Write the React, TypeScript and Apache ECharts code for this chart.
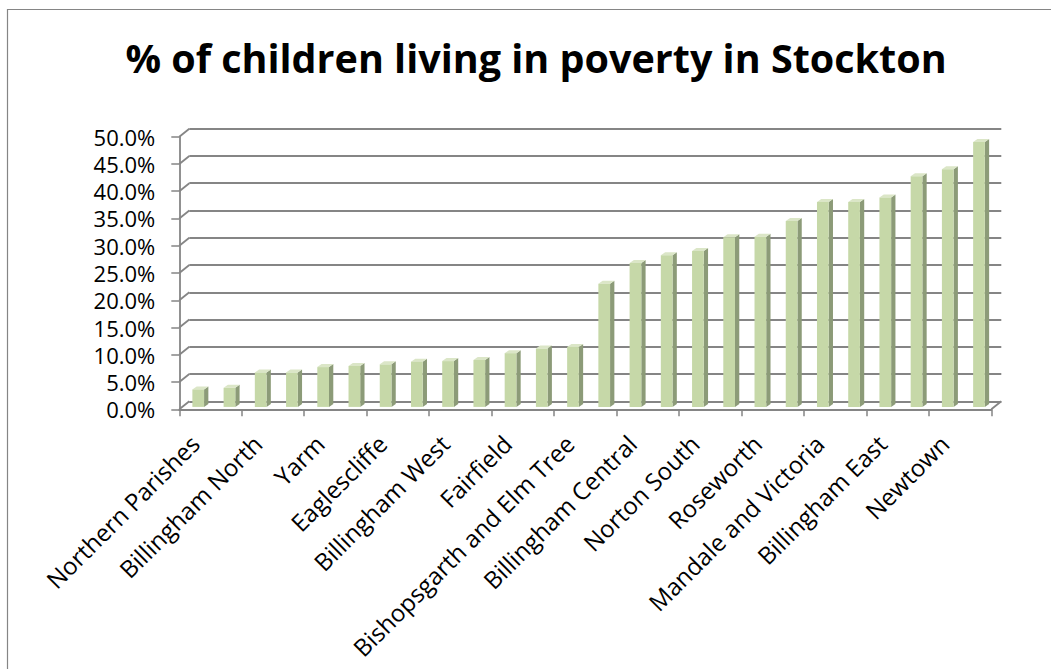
import React, { useEffect, useRef } from "react";
import * as echarts from "echarts";

const categories = [
  "Northern Parishes",
  "Ingleby Barwick West",
  "Billingham North",
  "Ingleby Barwick East",
  "Yarm",
  "Western Parishes",
  "Eaglescliffe",
  "Hartburn",
  "Billingham West",
  "Norton West",
  "Fairfield",
  "Grangefield",
  "Bishopsgarth and Elm Tree",
  "Village",
  "Billingham Central",
  "Billingham South",
  "Norton South",
  "Norton North",
  "Roseworth",
  "Parkfield and Oxbridge",
  "Mandale and Victoria",
  "Hardwick",
  "Billingham East",
  "Stainsby Hill",
  "Newtown",
  "Stockton Town Centre",
];

const values = [
  3.2, 3.5, 6.3, 6.3, 7.3, 7.5, 7.8, 8.3, 8.4, 8.6, 9.85, 10.7, 11.0,
  22.6, 26.4, 27.8, 28.6, 31.1, 31.2, 34.1, 37.6, 37.6, 38.4, 42.3, 43.6, 48.6,
];

const yTickValues = [0, 5, 10, 15, 20, 25, 30, 35, 40, 45, 50];

const TITLE = "% of children living in poverty in Stockton";
const FONT = '"Open Sans", sans-serif';
const GRID_COLOR = "#858585";
const WALL_DX = 10;
const WALL_DY = -8;

export default function App() {
  const ref = useRef<HTMLDivElement>(null);

  useEffect(() => {
    const chart = echarts.init(ref.current as HTMLDivElement, null, { renderer: "svg" });

    const diagonal = (side: "left" | "right") => (params: any, api: any) => {
      const p = api.coord([api.value(0), api.value(1)]);
      const bw = api.size([1, 0])[0];
      const x = side === "left" ? p[0] - bw / 2 : p[0] + bw / 2;
      const y = p[1];
      return {
        type: "line",
        shape: { x1: x, y1: y, x2: x + WALL_DX, y2: y + WALL_DY },
        style: { stroke: GRID_COLOR, lineWidth: 1.8 },
      };
    };

    const barItem = (params: any, api: any) => {
      const i = api.value(0);
      const v = api.value(1);
      const top = api.coord([i, v]);
      const base = api.coord([i, 0]);
      const cx = top[0] + 3.3;
      const w = 11.7;
      const dx = 4.3;
      const dy = -3;
      const yT = top[1] - 2.4;
      const yB = base[1] - 2.4;
      const xl = cx - w / 2;
      const xr = cx + w / 2;
      return {
        type: "group",
        children: [
          {
            type: "polygon",
            shape: { points: [[xr, yT], [xr + dx, yT + dy], [xr + dx, yB + dy], [xr, yB]] },
            style: { fill: "#8c9b78" },
          },
          {
            type: "polygon",
            shape: { points: [[xl, yT], [xr, yT], [xr + dx, yT + dy], [xl + dx, yT + dy]] },
            style: { fill: "#dbe6c7" },
          },
          {
            type: "rect",
            shape: { x: xl, y: yT, width: w, height: yB - yT },
            style: { fill: "#c6d8a8" },
          },
        ],
      };
    };

    const option: any = {
      animation: false,
      backgroundColor: "#ffffff",
      title: {
        text: TITLE,
        left: 531,
        top: 33,
        textAlign: "center",
        textStyle: {
          fontFamily: FONT,
          fontWeight: "bold",
          fontSize: 39.5,
          color: "#000000",
        },
      },
      graphic: [
        {
          type: "line",
          shape: { x1: 7.5, y1: 9, x2: 7.5, y2: 669 },
          style: { stroke: GRID_COLOR, lineWidth: 1.2 },
        },
        {
          type: "line",
          shape: { x1: 7, y1: 9.5, x2: 1051, y2: 9.5 },
          style: { stroke: GRID_COLOR, lineWidth: 1.2 },
        },
      ],
      grid: [
        { left: 179.3, top: 136.7, width: 812, height: 272.6 },
        { left: 179.3 + WALL_DX, top: 136.7 + WALL_DY, width: 812, height: 272.6 },
      ],
      xAxis: [
        {
          type: "category",
          gridIndex: 0,
          data: categories,
          axisLine: { show: true, lineStyle: { color: GRID_COLOR, width: 1.8 } },
          axisTick: { show: true, length: 7, lineStyle: { color: GRID_COLOR, width: 1.5 } },
          axisLabel: {
            interval: 1,
            rotate: 45,
            margin: 30,
            fontFamily: FONT,
            fontSize: 24,
            color: "#000000",
          },
        },
        { type: "category", gridIndex: 1, data: categories, show: false },
      ],
      yAxis: [
        {
          type: "value",
          gridIndex: 0,
          min: 0,
          max: 50,
          interval: 5,
          axisLine: { show: true, lineStyle: { color: GRID_COLOR, width: 1.8 } },
          axisTick: { show: true, length: 8, lineStyle: { color: GRID_COLOR, width: 1.5 } },
          splitLine: { show: false },
          axisLabel: {
            margin: 24,
            formatter: (v: number) => v.toFixed(1) + "%",
            fontFamily: FONT,
            fontSize: 22,
            lineHeight: 22,
            color: "#000000",
          },
        },
        {
          type: "value",
          gridIndex: 1,
          min: 0,
          max: 50,
          interval: 5,
          axisLine: { show: false },
          axisTick: { show: false },
          axisLabel: { show: false },
          splitLine: { show: true, lineStyle: { color: GRID_COLOR, width: 1.8 } },
        },
      ],
      series: [
        {
          type: "custom",
          xAxisIndex: 0,
          yAxisIndex: 0,
          silent: true,
          data: yTickValues.map((v) => [0, v]),
          renderItem: diagonal("left"),
          z: 1,
        },
        {
          type: "custom",
          xAxisIndex: 0,
          yAxisIndex: 0,
          silent: true,
          data: [[categories.length - 1, 0]],
          renderItem: diagonal("right"),
          z: 1,
        },
        {
          type: "custom",
          xAxisIndex: 0,
          yAxisIndex: 0,
          data: values.map((v, i) => [i, v]),
          renderItem: barItem,
          z: 5,
        },
      ],
    };

    chart.setOption(option);
    return () => chart.dispose();
  }, []);

  return (
    <div
      ref={ref}
      style={{ position: "fixed", left: 0, top: 0, width: 1051, height: 669, background: "#fff" }}
    />
  );
}
